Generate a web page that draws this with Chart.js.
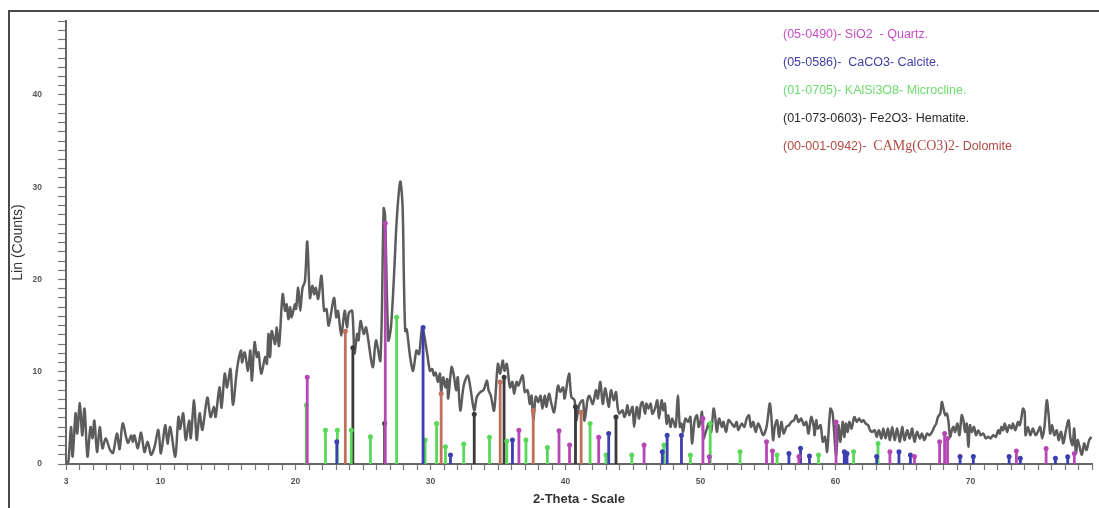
<!DOCTYPE html>
<html><head><meta charset="utf-8">
<script src="https://cdn.jsdelivr.net/npm/chart.js@4.4.0/dist/chart.umd.min.js"></script>
<style>
html,body{margin:0;padding:0;background:#fff;}
#wrap{position:relative;width:1099px;height:508px;overflow:hidden;}
#frame{position:absolute;left:8px;top:10px;width:1095px;height:500px;border-top:2px solid #4a4a4a;border-left:2px solid #4a4a4a;box-sizing:border-box;pointer-events:none;}
#legend{position:absolute;left:783px;top:20px;font-family:"Liberation Sans",Arial,sans-serif;font-size:12.5px;line-height:28px;white-space:nowrap;}
#legend .serif{font-family:"Liberation Serif","Times New Roman",serif;font-size:14px;}
</style></head>
<body>
<div id="wrap">
<canvas id="c" width="1099" height="508"></canvas>
<div id="frame"></div>
<div id="legend">
<div style="color:#c64fc6">(05-0490)- SiO2&nbsp; - Quartz.</div>
<div style="color:#3d3fa6">(05-0586)-&nbsp; CaCO3- Calcite.</div>
<div style="color:#6ddc6d">(01-0705)- KAlSi3O8- Microcline.</div>
<div style="color:#2a2a2a">(01-073-0603)- Fe2O3- Hematite.</div>
<div style="color:#b04a44">(00-001-0942)-&nbsp; <span class="serif">CAMg(CO3)2</span>- Dolomite</div>
</div>
</div>
<script>
// ---- measured pattern (2-theta, counts) ----
const twoTheta = [3.0,3.17,3.37,3.49,3.71,3.83,4.03,4.2,4.37,4.59,4.81,4.96,5.1,5.3,5.5,5.7,5.94,6.24,6.48,6.77,6.97,7.2,7.58,7.83,7.95,8.07,8.32,8.56,8.81,9.05,9.3,9.55,9.84,10.03,10.35,10.52,10.72,11.09,11.33,11.46,11.68,11.87,12.12,12.24,12.49,12.68,12.9,13.1,13.47,13.71,13.96,14.08,14.37,14.52,14.76,14.93,15.18,15.37,15.67,15.96,
16.04,16.24,16.48,16.65,16.77,16.97,17.14,17.26,17.46,17.76,17.88,18.0,18.12,18.24,18.49,18.61,18.78,19.05,19.23,19.35,19.47,19.6,19.71,19.96,20.04,20.2,20.35,20.52,20.7,20.87,21.07,21.24,21.38,21.5,21.68,21.92,22.12,22.29,22.46,22.85,23.02,23.15,23.39,23.64,23.81,23.96,24.2,24.37,24.57,24.67,24.82,25.06,25.23,25.72,25.96,26.29,26.53,26.63,26.88,27.07,27.3,27.5,27.76,27.93,28.03,28.13,28.24,28.49,28.71,28.96,29.15,29.4,
29.76,29.96,30.13,30.25,30.38,30.55,30.7,30.79,30.94,31.11,31.24,31.31,31.56,31.73,31.9,32.02,32.21,32.46,32.76,32.95,33.24,33.44,33.69,33.93,34.18,34.3,34.47,34.71,34.99,35.16,35.35,35.48,35.65,35.89,36.07,36.19,36.38,36.51,36.82,36.99,37.19,37.36,37.49,37.61,37.8,37.98,38.15,38.29,38.46,38.59,38.78,38.96,39.15,39.3,39.45,39.62,39.82,39.93,40.26,40.43,40.67,40.79,41.04,41.29,41.41,41.65,41.77,42.02,42.26,42.39,42.58,42.76,42.95,43.2,43.37,43.57,43.74,
43.86,43.98,44.23,44.35,44.47,44.59,44.72,44.96,45.08,45.28,45.45,45.57,45.7,45.89,45.99,46.14,46.31,46.43,46.63,46.8,46.92,47.12,47.24,47.36,47.49,47.61,47.78,47.9,48.15,48.32,48.47,48.59,48.71,48.88,49.08,49.25,49.37,49.57,49.74,49.86,49.99,50.11,50.23,50.35,50.48,50.6,50.79,50.97,51.09,51.21,51.38,51.58,51.7,51.9,52.07,52.31,52.51,52.68,52.8,53.05,53.25,53.42,53.59,53.74,53.91,54.08,54.27,54.45,54.64,54.89,55.13,55.25,55.38,55.5,55.67,55.82,55.99,56.16,56.36,56.55,56.73,56.92,57.09,57.26,57.46,57.66,57.83,58.0,58.2,58.39,
58.45,58.57,58.69,58.89,59.06,59.23,59.38,59.62,59.79,60.04,60.21,60.36,60.53,60.65,60.77,60.9,61.02,61.19,61.39,61.58,61.75,61.93,62.07,62.24,62.42,62.56,62.73,62.91,63.05,63.22,63.4,63.54,63.71,63.89,64.03,64.2,64.38,64.57,64.77,64.94,65.11,65.31,65.5,65.68,65.85,66.04,66.24,66.41,66.58,66.78,66.97,67.15,67.32,67.46,67.59,67.76,67.88,68.0,68.13,68.25,68.37,68.49,68.62,68.74,68.86,69.03,69.18,69.35,69.47,69.6,69.72,69.84,69.96,70.09,70.26,70.41,70.58,70.75,70.94,71.14,71.31,71.48,71.68,71.88,72.05,72.17,72.29,72.42,72.54,72.71,72.86,73.03,73.15,73.32,73.52,73.64,73.76,73.89,74.01,74.08,74.25,74.43,74.62,74.82,74.99,75.16,75.31,75.48,75.65,75.8,75.9,76.04,76.21,76.39,76.53,76.71,76.88,77.07,77.27,77.39,77.56,77.68,77.81,77.93,78.05,78.25,78.42,78.59,78.79,78.96];
const counts = [0.1,0.2,4.0,0.8,5.5,3.3,6.6,3.1,6.0,0.8,4.0,2.8,4.7,1.3,4.0,1.7,2.8,1.6,1.2,3.3,1.6,4.4,2.3,3.1,2.4,3.1,1.7,3.4,1.3,2.4,1.0,1.8,3.7,1.15,4.2,2.2,4.0,0.8,5.1,3.8,5.5,2.6,4.7,2.8,6.9,2.6,5.5,3.7,7.2,5.1,6.2,5.1,8.3,6.1,9.8,8.3,10.3,6.4,10.3,12.3,
11.0,12.1,10.1,12.3,9.05,13.2,11.6,12.1,9.8,11.6,10.85,14.1,11.6,14.4,13.0,14.8,12.8,18.4,16.6,17.3,15.7,17.0,15.9,17.3,16.8,19.1,16.6,19.1,19.8,24.1,18.0,19.3,18.4,19.1,17.9,20.4,16.6,16.8,15.0,18.0,15.9,16.6,13.9,16.6,14.8,16.4,16.6,12.0,14.1,13.4,15.5,14.1,14.8,10.5,13.4,11.2,27.7,27.0,13.4,14.8,20.5,26.5,30.6,28.0,20.0,14.4,14.6,11.6,10.1,12.3,11.9,14.8,
11.9,10.1,10.3,9.6,9.9,8.9,9.8,7.8,9.4,8.3,9.2,7.1,10.5,9.6,8.0,9.4,5.8,8.5,9.6,8.3,5.8,7.3,7.8,8.0,9.05,8.0,7.4,5.8,10.85,9.8,11.2,10.1,10.85,8.3,8.9,7.6,8.9,8.5,9.6,7.8,8.0,6.5,7.4,4.7,7.3,6.7,7.4,6.0,7.4,6.2,7.6,6.5,5.6,7.0,8.5,7.8,8.3,7.1,9.8,7.3,6.9,4.7,6.5,6.9,4.7,7.1,7.4,6.5,8.0,7.1,8.9,6.5,8.2,6.2,8.0,6.9,7.8,
6.18,5.46,5.82,5.1,5.46,6.36,5.28,6.18,4.02,6.18,4.92,6.36,6.72,5.46,6.54,6.0,6.54,5.46,6.0,6.9,4.92,6.9,5.82,6.54,4.38,5.28,4.02,4.92,4.02,7.43,4.02,4.38,3.48,4.92,4.56,5.1,2.23,4.74,5.28,4.02,4.56,5.64,2.77,3.3,3.84,4.38,3.48,6.0,5.1,3.48,4.92,4.02,4.56,3.48,4.74,4.38,4.02,4.56,3.66,4.38,4.02,4.92,5.28,4.02,4.56,3.48,4.38,3.84,3.12,4.02,6.54,5.1,2.59,4.02,4.74,2.94,4.56,3.3,4.02,4.2,4.56,4.74,5.28,4.56,4.92,4.2,4.56,3.3,5.1,4.02,
3.12,4.74,3.84,4.2,2.41,2.94,1.33,6.0,5.46,0.97,4.2,2.41,4.56,2.94,4.38,3.48,4.56,3.84,5.1,4.56,4.92,4.56,4.74,4.38,4.2,3.66,3.48,3.66,2.94,3.66,2.77,3.84,2.77,3.84,2.59,4.02,2.59,3.84,2.41,4.02,2.59,3.66,2.77,3.84,2.41,3.48,2.77,3.3,2.59,3.3,3.12,3.48,4.02,4.38,5.1,5.46,6.72,6.0,5.28,5.46,4.56,2.94,3.66,4.02,3.48,4.38,3.12,5.28,4.74,3.48,4.38,1.87,4.2,3.48,4.02,3.12,3.66,3.12,3.3,2.77,2.94,2.77,3.12,2.94,3.66,3.3,4.02,3.66,4.38,3.48,4.2,3.84,4.38,3.66,4.56,4.2,4.92,6.0,5.64,3.12,4.02,3.12,3.84,3.12,3.48,4.02,2.77,4.02,6.9,5.1,3.3,4.2,3.12,3.66,2.59,3.48,2.23,3.66,4.74,2.94,2.05,3.84,1.15,2.59,2.05,1.0,2.23,1.51,2.59,2.94];

// ---- reference stick patterns (position, relative height) ----
const quartzPos = [20.87,26.65,36.55,39.52,40.3,42.46,45.82,50.18,50.65,54.89,55.33,57.29,60.04,64.03,65.85,67.71,68.08,68.3,73.4,75.6,77.69];
const quartzInt = [9.4,26.1,3.66,3.6,2.05,2.9,2.05,4.92,0.79,2.41,1.4,0.8,4.56,1.33,0.8,2.41,3.3,2.77,1.4,1.69,1.15];
const calcitePos = [23.06,29.45,31.48,36.07,43.2,47.17,47.53,48.59,56.55,57.41,58.07,60.65,60.85,63.05,64.7,65.55,69.23,70.21,72.86,73.69,76.29,77.2];
const calciteInt = [2.4,14.8,0.97,2.6,3.3,1.33,3.12,3.12,1.15,1.7,0.86,1.33,1.15,0.8,1.33,0.97,0.8,0.8,0.8,0.61,0.61,0.79];
const microclinePos = [20.8,22.22,23.1,24.13,25.55,27.49,29.6,30.45,31.11,32.46,34.37,35.65,37.07,38.66,41.82,43.0,44.91,47.29,49.25,50.72,52.93,55.67,58.74,61.34,63.15];
const microclineInt = [6.4,3.66,3.66,3.66,2.95,15.9,2.6,4.4,1.87,2.16,2.9,2.5,2.6,1.8,4.4,0.97,0.97,2.05,0.97,4.38,1.33,0.97,0.97,1.33,2.23];
const hematitePos = [24.25,26.6,33.24,35.45,40.74,43.74];
const hematiteInt = [12.6,4.4,5.4,9.4,6.2,5.1];
const dolomitePos = [23.69,30.79,35.16,37.61,41.16];
const dolomiteInt = [14.4,7.6,8.9,5.8,5.6];

// tick labels
const xTickLabels = [3,10,20,30,40,50,60,70];
const yTickLabels = [0,10,20,30,40];

const linePts = twoTheta.map((t,i)=>({x:t,y:counts[i]}));
function sticks(pos,val){const d=[];pos.forEach((p,i)=>{d.push({x:p,y:0},{x:p,y:val[i]},{x:p,y:null});});return d;}
function stickSet(label,pos,val,color){
  return {type:'line',label,data:sticks(pos,val),borderColor:color,backgroundColor:color,borderWidth:2.8,
    spanGaps:false,tension:0,order:1,
    pointRadius:c=>(c.raw&&c.raw.y>0)?2.5:0,pointBorderWidth:0,pointBackgroundColor:color};
}

new Chart(document.getElementById('c'),{
  type:'line',
  data:{datasets:[
    stickSet('Quartz',quartzPos,quartzInt,'#b548b5'),
    stickSet('Calcite',calcitePos,calciteInt,'#3c3fb0'),
    stickSet('Microcline',microclinePos,microclineInt,'#5ad85a'),
    stickSet('Hematite',hematitePos,hematiteInt,'#3a3a3a'),
    stickSet('Dolomite',dolomitePos,dolomiteInt,'#c0705c'),
    {type:'line',label:'Pattern',data:linePts,borderColor:'#5c5c5c',borderWidth:2.5,pointRadius:0,tension:0.3,order:10}
  ]},
  options:{
    responsive:false,animation:false,
    layout:{padding:{left:8,top:18,right:0,bottom:0}},
    plugins:{legend:{display:false},tooltip:{enabled:false}},
    scales:{
      x:{type:'linear',min:3,max:79,position:'bottom',
        afterFit:s=>{s.height=44;},
        ticks:{stepSize:1,autoSkip:false,maxRotation:0,padding:7,color:'#555',
          font:{family:'"Liberation Sans", Arial, sans-serif',size:8.5,weight:'bold'},
          callback:v=>xTickLabels.includes(v)?String(v):''},
        grid:{drawOnChartArea:false,tickLength:6,tickColor:'#777',tickWidth:1.2},
        border:{color:'#666',width:2},
        title:{display:true,text:'2-Theta - Scale',color:'#333',padding:{top:0,bottom:1},
          font:{family:'"Liberation Sans", Arial, sans-serif',size:13,weight:'bold'}}},
      y:{type:'linear',min:0,max:48,
        afterFit:s=>{s.width=58;},
        ticks:{stepSize:1,autoSkip:false,padding:16,color:'#555',
          font:{family:'"Liberation Sans", Arial, sans-serif',size:8.5,weight:'bold'},
          callback:v=>yTickLabels.includes(v)?String(v):''},
        grid:{drawOnChartArea:false,tickLength:8,tickColor:'#777',tickWidth:1.2},
        border:{color:'#666',width:2},
        title:{display:true,text:'Lin (Counts)',color:'#333',padding:{top:2,bottom:0},
          font:{family:'"Liberation Sans", Arial, sans-serif',size:14}}}
    }
  }
});
</script>
</body></html>
